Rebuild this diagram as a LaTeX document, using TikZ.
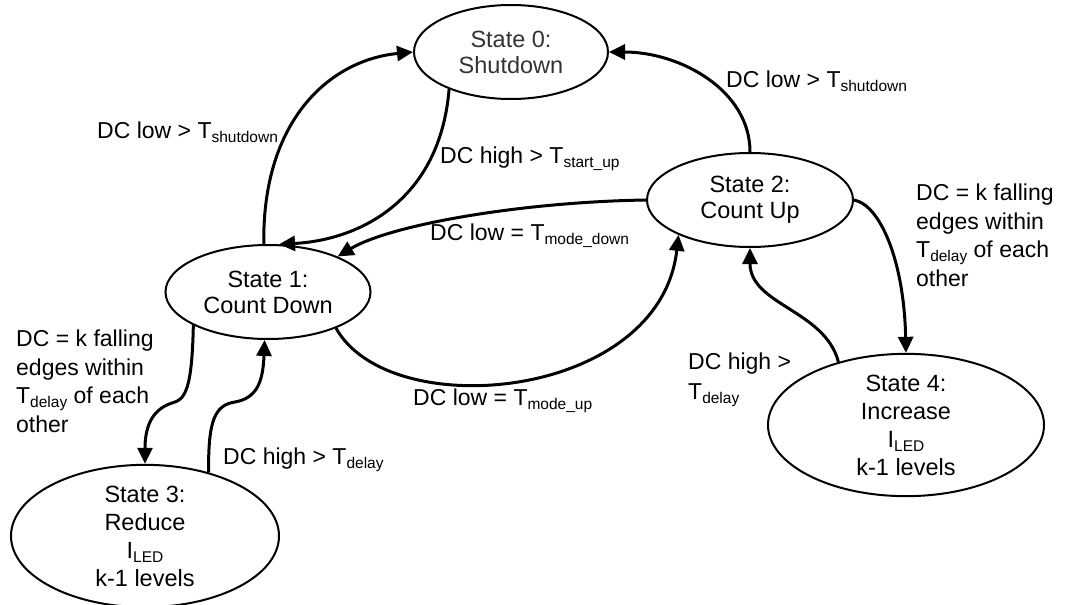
\documentclass[tikz,border=0pt]{standalone}
\usepackage{fontspec}
\setmainfont{Liberation Sans}
\usetikzlibrary{shapes.geometric,arrows.meta}
\newcommand{\lowsub}[1]{\raisebox{-4pt}{\fontsize{15.5}{15.5}\selectfont #1}}
\tikzset{
  statebox/.style={ellipse, draw, line width=2pt, inner sep=0pt, align=center,
    font=\fontsize{23.5}{26}\selectfont},
  bigstate/.style={statebox, font=\fontsize{23.5}{28}\selectfont},
  arr/.style={line width=3pt, line join=round, -{Triangle[length=16pt,width=15pt]}},
  lbl/.style={inner sep=0pt, font=\fontsize{23}{28.5}\selectfont, align=left}
}
\begin{document}
\begin{tikzpicture}[x=1pt,y=-1pt]
\useasboundingbox (0,0) rectangle (1072,605);
\fill[white] (0,0) rectangle (1072,605);
% states
\node[statebox, minimum width=194pt, minimum height=94pt, text=black!80] (s0) at (511,52) {State 0:\\Shutdown};
\node[statebox, minimum width=205pt, minimum height=94pt] (s1) at (268,292) {State 1:\\Count Down};
\node[statebox, minimum width=206pt, minimum height=94pt] (s2) at (750,200) {State 2:\\Count Up};
\node[bigstate, minimum width=268pt, minimum height=134pt] (s3) at (145,536) {State 3:\\Reduce\\I\lowsub{LED}\\k-1 levels};
\node[bigstate, minimum width=276pt, minimum height=139pt] (s4) at (906,425) {State 4:\\Increase\\I\lowsub{LED}\\k-1 levels};
% connectors
\draw[arr] (s1.95) .. controls (262,120) and (330,60) .. (s0.west);
\draw[arr] (s0.211) .. controls (440,200) and (360,240) .. (s1.77);
\draw[arr] (s2.west) .. controls (520,202) and (390,225) .. (s1.27);
\draw[arr] (s2.north) .. controls (750,90) and (680,52) .. (s0.east);
\draw[arr] (s2.east) .. controls (880,205) and (904,260) .. (s4.north);
\draw[arr] (s4.137) .. controls (825,310) and (750,305) .. (s2.south);
\draw[arr] (s1.332) .. controls (390,425) and (660,400) .. (s2.206);
\draw[arr] (s1.204) .. controls (192,390) and (185,400) .. (172,403) .. controls (150,410) and (145,430) .. (s3.north);
\draw[arr] (s3.45) .. controls (208,420) and (215,405) .. (235,402) .. controls (258,398) and (263,380) .. (s1.266);
% labels
\node[lbl, anchor=base west] (l1) at (97,138) {DC low > T\lowsub{shutdown}};
\node[lbl, anchor=base west] (l2) at (440,163) {DC high > T\lowsub{start\_up}};
\node[lbl, anchor=base west] (l3) at (430,240) {DC low = T\lowsub{mode\_down}};
\node[lbl, anchor=base west] (l4) at (726,87) {DC low > T\lowsub{shutdown}};
\node[lbl, anchor=north west] (l5) at (916,184) {DC = k falling\\edges within\\T\lowsub{delay} of each\\other};
\node[lbl, anchor=north west] (l6) at (16,330) {DC = k falling\\edges within\\T\lowsub{delay} of each\\other};
\node[lbl, anchor=base west] (l7) at (223,464) {DC high > T\lowsub{delay}};
\node[lbl, anchor=base west] (l8) at (413,405) {DC low = T\lowsub{mode\_up}};
\node[lbl, anchor=north west, font=\fontsize{23}{30}\selectfont] (l9) at (688,353) {DC high >\\T\lowsub{delay}};
\end{tikzpicture}
\end{document}
